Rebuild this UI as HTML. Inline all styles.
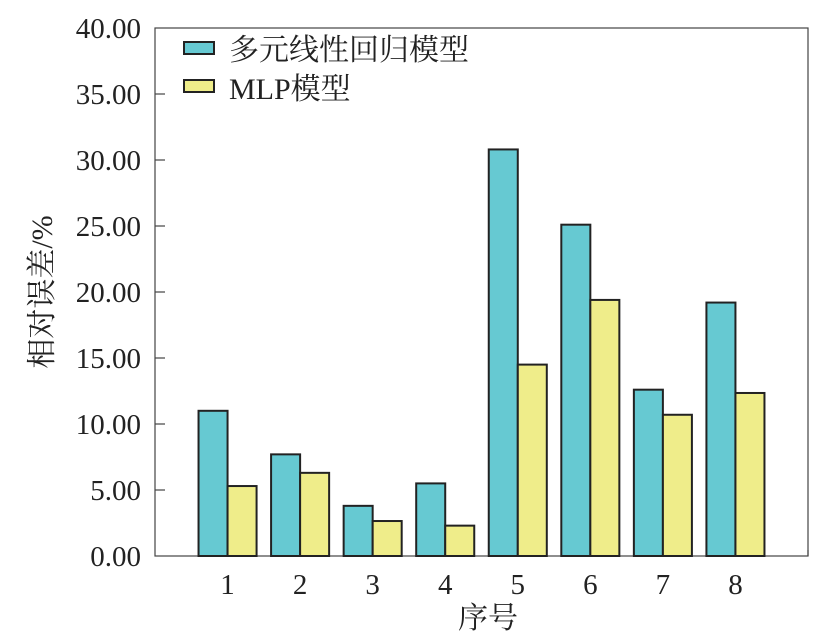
<!DOCTYPE html>
<html><head><meta charset="utf-8">
<style>
html,body{margin:0;padding:0;background:#fff;}
svg text{font-family:"Liberation Serif","Noto Serif CJK SC",serif;fill:#222;}
</style></head>
<body>
<svg id="chart" width="837" height="635" xmlns="http://www.w3.org/2000/svg">
<rect x="155" y="28" width="653" height="528" fill="none" stroke="#444" stroke-width="1.2"/>
<g id="ticks"></g>
<g id="bars"></g>
<g>
<rect x="184" y="42" width="30" height="12" fill="#66c9d2" stroke="#222" stroke-width="2"/>
<text x="229" y="60" font-size="30">多元线性回归模型</text>
<rect x="184" y="80" width="30" height="12" fill="#efed8a" stroke="#222" stroke-width="2"/>
<text x="229" y="99" font-size="30">MLP模型</text>
</g>
<text x="488" y="628" font-size="30" text-anchor="middle">序号</text>
<text transform="translate(52,292) rotate(-90)" font-size="30" text-anchor="middle">相对误差/%</text>
</svg>
<script>
const categories=["1","2","3","4","5","6","7","8"];
const linearValues=[11.0,7.7,3.8,5.5,30.8,25.1,12.6,19.2];
const mlpValues=[5.3,6.3,2.65,2.3,14.5,19.4,10.7,12.35];
const yTicks=[0,5,10,15,20,25,30,35,40];
const NS="http://www.w3.org/2000/svg";
const x0=155,x1=808,yb=556,yt=28,ymax=40;
const y=v=>yb-(v/ymax)*(yb-yt);
const slot=(x1-x0)/(categories.length+1);
const xc=i=>x0+slot*(i+1);
const bw=slot*0.4;
function mk(tag,attrs,parent){const e=document.createElementNS(NS,tag);for(const k in attrs)e.setAttribute(k,attrs[k]);parent.appendChild(e);return e;}
const tg=document.getElementById('ticks'),bg=document.getElementById('bars');
yTicks.forEach(t=>{
 if(t>0&&t<ymax){const l=mk('line',{x1:x0,x2:x0+10,y1:y(t),y2:y(t),stroke:'#444','stroke-width':1.2},tg);
 
 }
 const tx=mk('text',{x:x0-14,y:y(t)+10,'font-size':29,'text-anchor':'end'},tg);
 tx.textContent=t.toFixed(2);
 
 
});
mk('line',{x1:x1,x2:x1,y1:yb,y2:yb-6,stroke:'#444','stroke-width':1.2},tg);
categories.forEach((c,i)=>{
 const r1=mk('rect',{x:xc(i)-bw,y:y(linearValues[i]),width:bw,height:yb-y(linearValues[i]),fill:'#66c9d2',stroke:'#222','stroke-width':2},bg);
 
 
 const r2=mk('rect',{x:xc(i),y:y(mlpValues[i]),width:bw,height:yb-y(mlpValues[i]),fill:'#efed8a',stroke:'#222','stroke-width':2},bg);
 
 
 const tx=mk('text',{x:xc(i),y:594,'font-size':29,'text-anchor':'middle'},bg);
 tx.textContent=c;
 
 
});
</script>
</body></html>
